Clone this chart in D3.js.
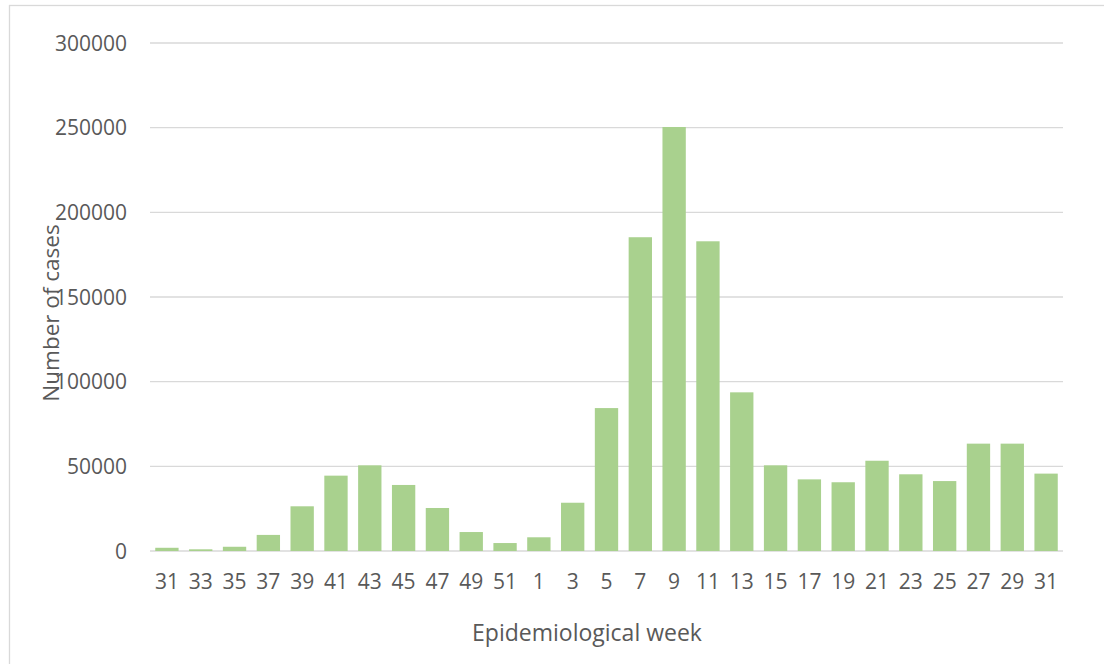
<!DOCTYPE html>
<html>
<head>
<meta charset="utf-8">
<script src="https://cdn.jsdelivr.net/npm/d3@7"></script>
<style>
body { margin: 0; background: #ffffff; }
text { font-family: "Open Sans", sans-serif; fill: #595959; }
</style>
</head>
<body>
<script>
// epidemiological weeks (wrap round the new year, so keys differ from labels)
var weekKeys = ["31a","33","35","37","39","41","43","45","47","49","51","1","3","5","7","9","11","13","15","17","19","21","23","25","27","29","31b"];
var weekLabels = ["31","33","35","37","39","41","43","45","47","49","51","1","3","5","7","9","11","13","15","17","19","21","23","25","27","29","31"];
var cases = [1900, 1000, 2500, 9500, 26400, 44500, 50600, 39000, 25400, 11200, 4700, 8100, 28500, 84400, 185300, 250400, 182900, 93700, 50600, 42300, 40600, 53300, 45300, 41300, 63400, 63400, 45700];
var yTicks = [0, 50000, 100000, 150000, 200000, 250000, 300000];

var width = 1104, height = 664;
var plotLeft = 150, plotRight = 1063, plotTop = 43, plotBottom = 551;

var svgContainer = d3.select("body").append("svg")
                                    .attr("width", width)
                                    .attr("height", height);

// outer chart frame
svgContainer.append("rect")
            .attr("x", 9.5)
            .attr("y", 5.5)
            .attr("width", 1110)
            .attr("height", 670)
            .attr("fill", "none")
            .attr("stroke", "#d9d9d9")
            .attr("stroke-width", 1.3);

var x = d3.scaleBand()
          .domain(weekKeys)
          .range([plotLeft, plotRight])
          .paddingInner(0.31)
          .paddingOuter(0.155);

var y = d3.scaleLinear()
          .domain([0, 300000])
          .range([plotBottom, plotTop]);

// gridlines
svgContainer.append("g")
            .selectAll("line")
            .data(yTicks)
            .enter().append("line")
            .attr("x1", plotLeft)
            .attr("x2", plotRight)
            .attr("y1", function(d){ return y(d); })
            .attr("y2", function(d){ return y(d); })
            .attr("stroke", "#d9d9d9")
            .attr("stroke-width", 1.3);

// y tick labels
svgContainer.append("g")
            .selectAll("text")
            .data(yTicks)
            .enter().append("text")
            .attr("x", 127)
            .attr("y", function(d){ return y(d); })
            .attr("dy", "0.36em")
            .attr("text-anchor", "end")
            .style("font-size", "21px")
            .text(function(d){ return d; });

// bars
svgContainer.append("g")
            .selectAll("rect")
            .data(cases)
            .enter().append("rect")
            .attr("x", function(d, i){ return x(weekKeys[i]); })
            .attr("y", function(d){ return y(d); })
            .attr("width", x.bandwidth())
            .attr("height", function(d){ return y(0) - y(d); })
            .attr("fill", "#a9d18e");

// x tick labels
svgContainer.append("g")
            .selectAll("text")
            .data(weekKeys)
            .enter().append("text")
            .attr("x", function(d){ return x(d) + x.bandwidth() / 2; })
            .attr("y", 589)
            .attr("text-anchor", "middle")
            .style("font-size", "21px")
            .text(function(d, i){ return weekLabels[i]; });

// axis titles
svgContainer.append("text")
            .attr("x", 587)
            .attr("y", 641)
            .attr("text-anchor", "middle")
            .style("font-size", "23px")
            .text("Epidemiological week");

svgContainer.append("text")
            .attr("transform", "translate(59,313) rotate(-90)")
            .attr("text-anchor", "middle")
            .style("font-size", "22.5px")
            .text("Number of cases");
</script>
</body>
</html>
